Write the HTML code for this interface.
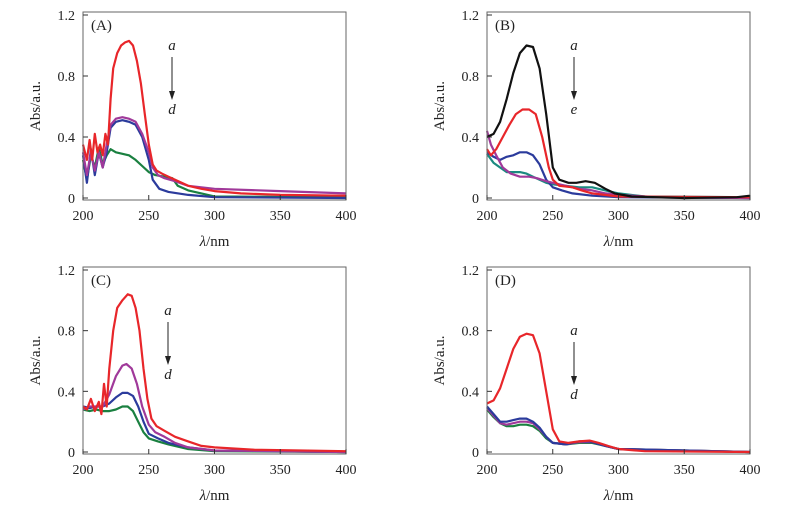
<!DOCTYPE html>
<html><head><meta charset="utf-8">
<style>
html,body{margin:0;padding:0;background:#fff;}
svg{display:block;}
text{font-family:"Liberation Serif",serif;fill:#222;}
</style></head>
<body>
<svg id="fig" width="790" height="511" viewBox="0 0 790 511"></svg>
<script>
const xTicks=[200,250,300,350,400];
const yTicks=[0,0.4,0.8,1.2];
const yTickLabels=["0","0.4","0.8","1.2"];
// Panel A
const aWl_a=[200,203,205,207,209,211,213,215,217,219,221,223,226,229,232,235,238,241,244,247,250,253,256,260,265,270,280,290,300,320,350,400];
const aAbs_a=[0.35,0.25,0.38,0.25,0.42,0.3,0.35,0.28,0.42,0.35,0.65,0.85,0.95,1.0,1.02,1.03,1.0,0.9,0.75,0.55,0.35,0.22,0.18,0.16,0.14,0.12,0.08,0.06,0.045,0.03,0.02,0.015];
const aWl_b=[200,203,206,209,212,215,218,221,225,230,235,240,245,250,253,257,262,270,280,300,350,400];
const aAbs_b=[0.3,0.15,0.3,0.18,0.3,0.2,0.35,0.48,0.52,0.53,0.52,0.5,0.42,0.3,0.2,0.15,0.13,0.11,0.08,0.06,0.045,0.03];
const aWl_c=[200,203,206,209,212,215,218,221,225,230,235,240,245,250,253,258,265,280,300,400];
const aAbs_c=[0.28,0.1,0.32,0.15,0.3,0.2,0.3,0.46,0.5,0.51,0.5,0.48,0.4,0.25,0.12,0.06,0.04,0.02,0.005,0.0];
const aWl_d=[200,203,206,209,212,215,218,221,225,230,235,240,245,250,255,262,268,272,280,290,300,400];
const aAbs_d=[0.25,0.12,0.28,0.2,0.33,0.22,0.28,0.32,0.3,0.29,0.28,0.25,0.21,0.17,0.15,0.14,0.13,0.08,0.05,0.03,0.01,0.005];
// Panel B
const bWl_a=[200,205,210,215,220,225,230,235,240,245,250,255,262,268,275,282,290,297,310,350,390,400];
const bAbs_a=[0.4,0.42,0.5,0.65,0.82,0.95,1.0,0.99,0.85,0.55,0.2,0.12,0.1,0.1,0.11,0.1,0.06,0.03,0.01,0.0,0.005,0.015];
const bWl_b=[200,203,207,212,217,222,227,232,237,242,247,250,255,265,272,280,300,400];
const bAbs_b=[0.32,0.28,0.32,0.4,0.48,0.55,0.58,0.58,0.55,0.4,0.2,0.12,0.08,0.07,0.05,0.03,0.01,0.005];
const bWl_c=[200,205,210,215,220,225,230,235,240,245,250,257,265,280,300,400];
const bAbs_c=[0.3,0.27,0.25,0.27,0.28,0.3,0.3,0.28,0.22,0.12,0.07,0.05,0.03,0.015,0.005,0.0];
const bWl_d=[200,205,210,215,220,225,230,235,240,245,250,260,270,280,290,300,320,400];
const bAbs_d=[0.29,0.23,0.2,0.17,0.17,0.17,0.16,0.14,0.12,0.1,0.09,0.08,0.07,0.07,0.05,0.03,0.01,0.005];
const bWl_e=[200,203,207,212,218,225,232,238,245,250,260,270,280,290,300,330,400];
const bAbs_e=[0.44,0.35,0.28,0.2,0.16,0.14,0.14,0.13,0.11,0.1,0.08,0.06,0.05,0.03,0.02,0.005,0.0];
// Panel C
const cWl_a=[200,203,206,209,212,214,216,218,220,223,226,230,234,237,240,243,246,249,252,256,262,270,280,290,300,330,400];
const cAbs_a=[0.3,0.28,0.35,0.27,0.33,0.25,0.45,0.3,0.55,0.8,0.95,1.0,1.04,1.03,0.95,0.8,0.55,0.35,0.22,0.17,0.14,0.1,0.07,0.04,0.03,0.015,0.005];
const cWl_b=[200,205,210,215,220,225,230,233,237,241,245,250,255,262,270,280,300,400];
const cAbs_b=[0.28,0.3,0.3,0.3,0.38,0.5,0.57,0.58,0.55,0.45,0.3,0.18,0.13,0.1,0.06,0.03,0.01,0.0];
const cWl_c=[200,205,210,215,220,225,230,234,238,242,246,250,257,265,280,300,400];
const cAbs_c=[0.3,0.29,0.3,0.3,0.32,0.36,0.39,0.39,0.37,0.3,0.2,0.12,0.09,0.06,0.03,0.01,0];
const cWl_d=[200,205,210,215,220,225,230,234,238,242,246,250,257,265,280,300,400];
const cAbs_d=[0.28,0.27,0.28,0.27,0.27,0.28,0.3,0.3,0.27,0.2,0.13,0.09,0.07,0.05,0.02,0.005,0];
// Panel D
const dWl_a=[200,205,210,215,220,225,230,235,240,245,250,255,262,270,278,285,292,300,320,400];
const dAbs_a=[0.32,0.34,0.42,0.55,0.68,0.76,0.78,0.77,0.65,0.4,0.15,0.07,0.06,0.07,0.075,0.06,0.04,0.02,0.005,0];
const dWl_b=[200,205,210,215,220,225,230,235,240,245,250,260,270,278,290,300,400];
const dAbs_b=[0.3,0.25,0.2,0.2,0.21,0.22,0.22,0.2,0.16,0.1,0.06,0.05,0.07,0.07,0.04,0.02,0];
const dWl_c=[200,205,210,215,220,225,230,235,240,245,250,260,270,280,290,300,400];
const dAbs_c=[0.29,0.24,0.19,0.18,0.19,0.2,0.2,0.19,0.15,0.1,0.06,0.05,0.065,0.065,0.04,0.02,0];
const dWl_d=[200,205,210,215,220,225,230,235,240,245,250,260,270,280,290,300,400];
const dAbs_d=[0.28,0.23,0.19,0.17,0.17,0.18,0.18,0.17,0.14,0.09,0.06,0.05,0.06,0.06,0.04,0.02,0];

const RED="#e8262a",PUR="#a0399a",BLU="#2b3b9c",GRN="#1a8040",TEAL="#1b8a80",BLK="#111";
const NS="http://www.w3.org/2000/svg";
const svg=document.getElementById('fig');
function mk(tag,attrs,parent){const e=document.createElementNS(NS,tag);for(const k in attrs)e.setAttribute(k,attrs[k]);(parent||svg).appendChild(e);return e;}

const panels=[
 {id:"a",label:"(A)",x0:83,x1:346,yTop:15,yBase:198,top:12,bottom:200,ann:["a","d"],annX:172,annY:50,
  series:[[aWl_d,aAbs_d,GRN],[aWl_c,aAbs_c,BLU],[aWl_b,aAbs_b,PUR],[aWl_a,aAbs_a,RED]]},
 {id:"b",label:"(B)",x0:487,x1:750,yTop:15,yBase:198,top:12,bottom:200,ann:["a","e"],annX:574,annY:50,
  series:[[bWl_d,bAbs_d,TEAL],[bWl_c,bAbs_c,BLU],[bWl_e,bAbs_e,PUR],[bWl_b,bAbs_b,RED],[bWl_a,bAbs_a,BLK]]},
 {id:"c",label:"(C)",x0:83,x1:346,yTop:270,yBase:452,top:267,bottom:454,ann:["a","d"],annX:168,annY:315,
  series:[[cWl_d,cAbs_d,GRN],[cWl_c,cAbs_c,BLU],[cWl_b,cAbs_b,PUR],[cWl_a,cAbs_a,RED]]},
 {id:"d",label:"(D)",x0:487,x1:750,yTop:270,yBase:452,top:267,bottom:454,ann:["a","d"],annX:574,annY:335,
  series:[[dWl_d,dAbs_d,GRN],[dWl_c,dAbs_c,PUR],[dWl_b,dAbs_b,BLU],[dWl_a,dAbs_a,RED]]}
];

panels.forEach(p=>{
  const g=mk('g',{});
  
  
  const xs=v=>p.x0+(v-200)/200*(p.x1-p.x0);
  const ys=v=>p.yBase-v/1.2*(p.yBase-p.yTop);
  // series
  p.series.forEach((s,i)=>{
    const pts=s[0].map((w,j)=>xs(w).toFixed(1)+","+ys(s[1][j]).toFixed(1)).join(" ");
    const pl=mk('polyline',{points:pts,fill:"none",stroke:s[2],"stroke-width":2.2,"stroke-linejoin":"round"},g);
    
    
  });
  // frame
  const fr=mk('rect',{x:p.x0,y:p.top,width:p.x1-p.x0,height:p.bottom-p.top,fill:"none",stroke:"#666","stroke-width":1},g);
  
  
  xTicks.forEach(t=>{
    mk('line',{x1:xs(t),x2:xs(t),y1:p.bottom,y2:p.bottom-5,stroke:"#333"},g);
    const tx=mk('text',{x:xs(t),y:p.bottom+20,"text-anchor":"middle","font-size":14},g);
    tx.textContent=t;
    
    
  });
  yTicks.forEach((t,i)=>{
    mk('line',{x1:p.x0,x2:p.x0+5,y1:ys(t),y2:ys(t),stroke:"#333"},g);
    const ty=mk('text',{x:p.x0-8,y:ys(t)+5,"text-anchor":"end","font-size":14},g);
    ty.textContent=yTickLabels[i];
    
    
  });
  const yl=mk('text',{x:0,y:0,"text-anchor":"middle","font-size":15,transform:`translate(${p.x0-43},${(p.top+p.bottom)/2}) rotate(-90)`},g);
  yl.textContent="Abs/a.u.";
  
  
  const xl=mk('text',{x:(p.x0+p.x1)/2,y:p.bottom+46,"text-anchor":"middle","font-size":15},g);
  xl.innerHTML='<tspan font-style="italic">λ</tspan>/nm';
  
  
  const pl=mk('text',{x:p.x0+8,y:p.top+18,"font-size":15},g);
  pl.textContent=p.label;
  
  
  const a1=mk('text',{x:p.annX,y:p.annY,"text-anchor":"middle","font-size":15,"font-style":"italic"},g);
  a1.textContent=p.ann[0];
  
  
  const ar=mk('line',{x1:p.annX,x2:p.annX,y1:p.annY+7,y2:p.annY+44,stroke:"#222","stroke-width":1},g);
  
  
  mk('polygon',{points:`${p.annX-3},${p.annY+41} ${p.annX+3},${p.annY+41} ${p.annX},${p.annY+50}`,fill:"#222"},g);
  const a2=mk('text',{x:p.annX,y:p.annY+64,"text-anchor":"middle","font-size":15,"font-style":"italic"},g);
  a2.textContent=p.ann[1];
  
  
});
</script>
</body></html>
